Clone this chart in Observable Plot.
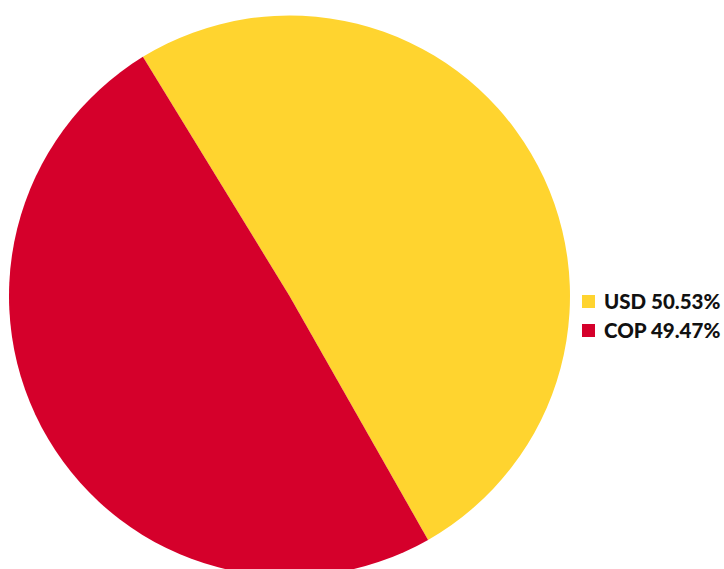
<!DOCTYPE html>
<html>
<head>
<meta charset="utf-8">
<script src="https://cdn.jsdelivr.net/npm/d3@7"></script>
<script src="https://cdn.jsdelivr.net/npm/@observablehq/plot@0.6"></script>
<style>
  html, body { margin: 0; padding: 0; background: #fff; }
  #wrap { position: relative; width: 724px; height: 569px; overflow: hidden; }
  #legend { position: absolute; left: 582px; top: 287px; font-family: "Lato", "Inter", sans-serif; font-weight: 900; font-size: 20.5px; letter-spacing: 0px; color: #111; white-space: nowrap; }
  #legend .row { display: flex; align-items: center; height: 29px; line-height: 29px; }
  #legend .sw { width: 13px; height: 13px; margin-right: 9px; flex: none; }
</style>
</head>
<body>
<div id="wrap"></div>
<script>
const categories = ["USD", "COP"];
const shares = [50.53, 49.47];
const colors = ["#FFD42F", "#D5002B"];

const data = categories.map((c, i) => ({currency: c, share: shares[i]}));

const startAngle = -0.55;
const cx = 289.5, cy = 296, radius = 280.5;

function pieMark(index, scales, values, dimensions, context) {
  const arcs = d3.pie().sort(null).value(d => d.share)
    .startAngle(startAngle).endAngle(startAngle + 2 * Math.PI)(data);
  const arc = d3.arc().innerRadius(0).outerRadius(radius);
  const g = d3.create("svg:g").attr("transform", `translate(${cx},${cy})`);
  g.selectAll("path").data(arcs).join("path")
    .attr("d", arc)
    .attr("fill", d => scales.color(d.data.currency));
  return g.node();
}

const plot = Plot.plot({
  width: 724,
  height: 569,
  margin: 0,
  x: {axis: null},
  y: {axis: null},
  color: {domain: categories, range: colors},
  marks: [pieMark]
});

const wrap = document.getElementById("wrap");
wrap.appendChild(plot);

const legend = document.createElement("div");
legend.id = "legend";
data.forEach(d => {
  const row = document.createElement("div");
  row.className = "row";
  const sw = document.createElement("div");
  sw.className = "sw";
  sw.style.background = plot.scale("color").apply(d.currency);
  const t = document.createElement("span");
  t.textContent = `${d.currency} ${d.share.toFixed(2)}%`;
  row.appendChild(sw);
  row.appendChild(t);
  legend.appendChild(row);
});
wrap.appendChild(legend);
</script>
</body>
</html>
